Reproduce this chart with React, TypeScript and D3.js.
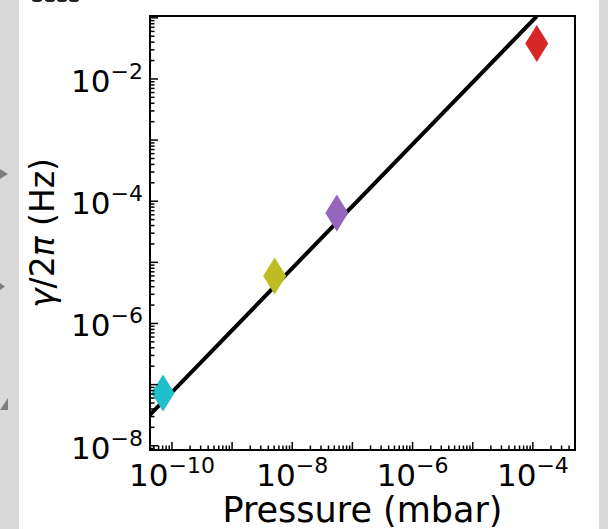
import React from "react";
import * as d3 from "d3";

const pressure = [7.1e-11, 5.1e-9, 5.5e-8, 1.16e-4];
const gamma = [7.3e-8, 6.0e-6, 6.4e-5, 3.8e-2];
const colors = ["#1fbfcc", "#bcbd22", "#9467bd", "#d62728"];
const linePressure = [4.3e-11, 1.16e-4];
const lineGamma = [3.2e-8, 0.106];
const xTickExps = [-10, -8, -6, -4];
const yTickExps = [-8, -6, -4, -2];

const W = 608;
const H = 529;
const L = 150, R = 575, T = 16, B = 450;

export default function App() {
  const x = d3.scaleLog().domain([Math.pow(10, -10.365), Math.pow(10, -3.3)]).range([L, R]);
  const y = d3.scaleLog().domain([Math.pow(10, -8.07), Math.pow(10, -0.97)]).range([B, T]);

  const xTicks: { v: number; major: boolean }[] = [];
  for (let e = -11; e <= -3; e++) {
    for (let m = 1; m <= 9; m++) {
      const v = m * Math.pow(10, e);
      const px = x(v);
      if (px >= L - 0.5 && px <= R + 0.5) xTicks.push({ v, major: m === 1 });
    }
  }
  const yTicks: { v: number; major: boolean }[] = [];
  for (let e = -9; e <= 0; e++) {
    for (let m = 1; m <= 9; m++) {
      const v = m * Math.pow(10, e);
      const py = y(v);
      if (py >= T - 0.5 && py <= B + 0.5) yTicks.push({ v, major: m === 1 });
    }
  }

  const line = d3
    .line<number>()
    .x((_, i) => x(linePressure[i]))
    .y((_, i) => y(lineGamma[i]));

  const dw = 11.5, dh = 18.5;
  const diamond = `M0,${-dh}L${dw},0L0,${dh}L${-dw},0Z`;

  const font = "DejaVu Sans, sans-serif";

  return (
    <svg width={W} height={H} style={{ position: "absolute", left: 0, top: 0 }} fontFamily={font}>
      <rect x={0} y={0} width={W} height={H} fill="#ffffff" />
      <rect x={0} y={0} width={19} height={H} fill="#d9d9d9" />
      <rect x={599} y={0} width={9} height={H} fill="#d9d9d9" />
      <polygon points="0,169 8,174 0,179" fill="#7f7f7f" />
      <polygon points="0,283 5,286.5 0,290" fill="#7f7f7f" />
      <polygon points="8,398 8,410 0,410" fill="#7f7f7f" />
      {[37, 50, 62, 74].map((bx) => (
        <ellipse key={bx} cx={bx} cy={0} rx={5} ry={2} fill="#222" />
      ))}

      <defs>
        <clipPath id="plotclip">
          <rect x={L} y={T} width={R - L} height={B - T} />
        </clipPath>
      </defs>

      <path d={line([0, 1]) || ""} stroke="#000" strokeWidth={4} fill="none" clipPath="url(#plotclip)" />

      {pressure.map((p, i) => (
        <path key={i} d={diamond} transform={`translate(${x(p)},${y(gamma[i])})`} fill={colors[i]} />
      ))}

      {xTicks.map((t, i) => (
        <line key={"xt" + i} x1={x(t.v)} x2={x(t.v)} y1={B} y2={B - (t.major ? 8 : 4.5)} stroke="#000" strokeWidth={1.5} />
      ))}
      {yTicks.map((t, i) => (
        <line key={"yt" + i} x1={L} x2={L + (t.major ? 8 : 4.5)} y1={y(t.v)} y2={y(t.v)} stroke="#000" strokeWidth={1.5} />
      ))}

      <rect x={L} y={T} width={R - L} height={B - T} fill="none" stroke="#000" strokeWidth={2} />

      {xTickExps.map((e) => (
        <text key={"xl" + e} x={x(Math.pow(10, e))} y={486} fontSize={31} textAnchor="middle" fill="#000">
          10
          <tspan fontSize={22} dy={-13}>{"\u2212" + Math.abs(e)}</tspan>
        </text>
      ))}
      {yTickExps.map((e) => (
        <text key={"yl" + e} x={143} y={y(Math.pow(10, e)) + 13} fontSize={31} textAnchor="end" fill="#000">
          10
          <tspan fontSize={22} dy={-13}>{"\u2212" + Math.abs(e)}</tspan>
        </text>
      ))}

      <text x={(L + R) / 2} y={522} fontSize={35} textAnchor="middle" fill="#000">
        Pressure (mbar)
      </text>
      <text transform={`translate(54,${(T + B) / 2}) rotate(-90)`} fontSize={33} textAnchor="middle" fill="#000">
        <tspan fontStyle="italic">γ</tspan>/2<tspan fontStyle="italic">π</tspan> (Hz)
      </text>
    </svg>
  );
}
